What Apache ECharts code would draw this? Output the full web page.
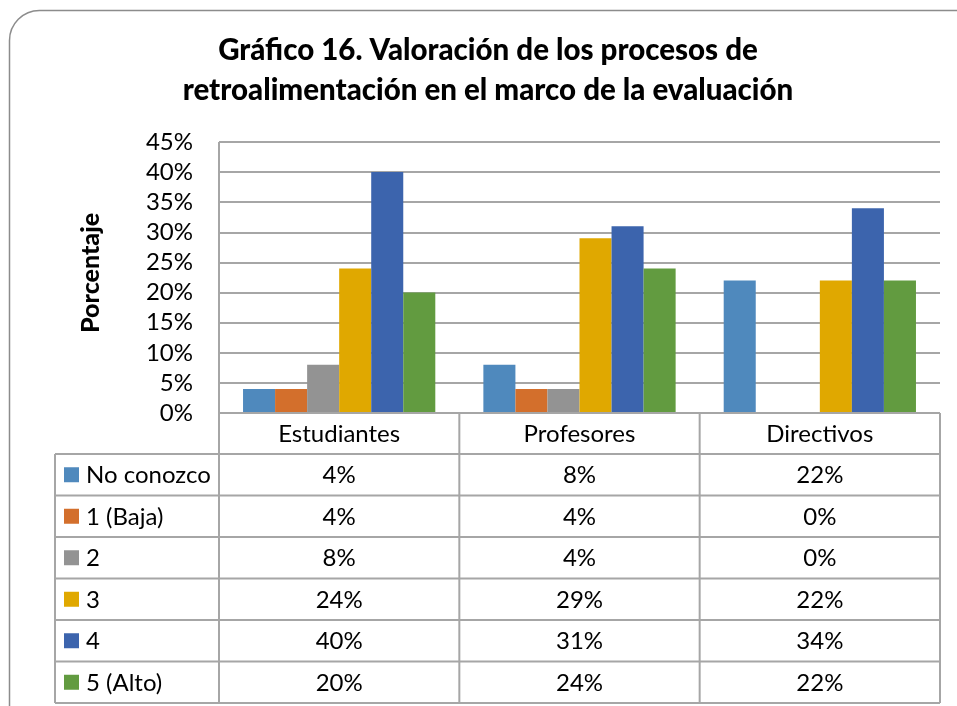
<!DOCTYPE html>
<html>
<head>
<meta charset="utf-8">
<script src="https://cdn.jsdelivr.net/npm/echarts@6/dist/echarts.min.js"></script>
<style>html,body{margin:0;padding:0;background:#fff}#c{width:957px;height:706px}</style>
</head>
<body>
<div id="c"></div>
<script>
const titleLines = ['Gráfico 16. Valoración de los procesos de', 'retroalimentación en el marco de la evaluación'];
const yAxisName = 'Porcentaje';
const categories = ['Estudiantes', 'Profesores', 'Directivos'];
const seriesNames = ['No conozco', '1 (Baja)', '2', '3', '4', '5 (Alto)'];
const noConozco = [4, 8, 22];
const baja1 = [4, 4, 0];
const dos = [8, 4, 0];
const tres = [24, 29, 22];
const cuatro = [40, 31, 34];
const alto5 = [20, 24, 22];
const seriesValues = [noConozco, baja1, dos, tres, cuatro, alto5];
const colors = ['#4F89BD', '#D36F2C', '#939393', '#E0A800', '#3C64AD', '#629B40'];

const FONT = 'Lato, "Noto Sans", sans-serif';
const gridL = 219, gridR = 940, gridT = 142, gridB = 413;
const tableL = 55, rowTop = 454, rowH = 41.5;
const lineColor = '#a6a6a6';

const chart = echarts.init(document.getElementById('c'), null, {renderer: 'canvas'});

const graphics = [];
graphics.push({type: 'rect', shape: {x: 9.5, y: 10.5, width: 990, height: 760, r: 30}, style: {fill: 'none', stroke: '#8c8c8c', lineWidth: 1.5}, z: 0});
titleLines.forEach((t, i) => {
  graphics.push({type: 'text', x: 488, y: 50 + i * 40, style: {text: t, font: '900 29.5px ' + FONT, fill: '#000', align: 'center', verticalAlign: 'middle', textAlign: 'center', textVerticalAlign: 'middle'}});
});
graphics.push({type: 'text', x: 91, y: 273, rotation: Math.PI / 2, style: {text: yAxisName, font: '900 25px ' + FONT, fill: '#000', align: 'center', verticalAlign: 'middle', textAlign: 'center', textVerticalAlign: 'middle'}});

const colW = (gridR - gridL) / categories.length;
const nRows = seriesNames.length;
const tableBottom = rowTop + nRows * rowH;
function L(x1, y1, x2, y2) {
  graphics.push({type: 'line', shape: {x1, y1, x2, y2}, style: {stroke: lineColor, lineWidth: 2}, z: 10});
}
// vertical lines
L(gridL, gridT, gridL, tableBottom);
for (let i = 1; i <= categories.length; i++) L(gridL + colW * i, gridB, gridL + colW * i, tableBottom);
L(tableL, rowTop, tableL, tableBottom);
// horizontal lines
L(gridL, gridB, gridR, gridB);
for (let r = 0; r <= nRows; r++) L(tableL, rowTop + r * rowH, gridR, rowTop + r * rowH);
// header labels
categories.forEach((c, i) => {
  graphics.push({type: 'text', x: gridL + colW * (i + 0.5), y: (gridB + rowTop) / 2 + 1, style: {text: c, font: '24px ' + FONT, fill: '#000', align: 'center', verticalAlign: 'middle', textAlign: 'center', textVerticalAlign: 'middle'}});
});
// rows
seriesNames.forEach((name, r) => {
  const cy = rowTop + r * rowH + rowH / 2;
  graphics.push({type: 'rect', shape: {x: 64, y: cy - 7.5, width: 15, height: 15}, style: {fill: colors[r]}});
  graphics.push({type: 'text', x: 86, y: cy + 1, style: {text: name, font: '24px ' + FONT, fill: '#000', align: 'left', verticalAlign: 'middle', textAlign: 'left', textVerticalAlign: 'middle'}});
  seriesValues[r].forEach((v, i) => {
    graphics.push({type: 'text', x: gridL + colW * (i + 0.5), y: cy + 1, style: {text: v + '%', font: '24px ' + FONT, fill: '#000', align: 'center', verticalAlign: 'middle', textAlign: 'center', textVerticalAlign: 'middle'}});
  });
});

chart.setOption({
  animation: false,
  backgroundColor: '#fff',
  grid: {left: gridL, right: 957 - gridR, top: gridT, bottom: 706 - gridB, containLabel: false},
  xAxis: {type: 'category', data: categories, axisLine: {show: false}, axisTick: {show: false}, axisLabel: {show: false}},
  yAxis: {type: 'value', min: 0, max: 45, interval: 5,
    axisLine: {show: false}, axisTick: {show: false},
    axisLabel: {formatter: '{value}%', fontFamily: 'Lato', fontSize: 24, color: '#000', margin: 26},
    splitLine: {lineStyle: {color: lineColor, width: 2}}},
  series: seriesNames.map((n, r) => ({
    name: n, type: 'bar', data: seriesValues[r], barGap: '0%', barCategoryGap: '20%',
    itemStyle: {color: colors[r]}
  })),
  graphic: graphics
});
</script>
</body>
</html>
